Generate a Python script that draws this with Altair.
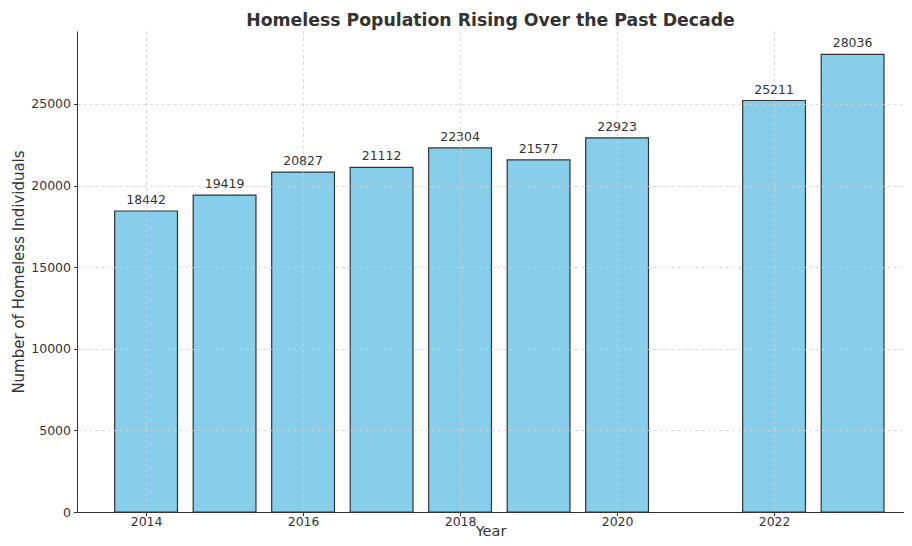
import altair as alt
import pandas as pd

years = [2014, 2015, 2016, 2017, 2018, 2019, 2020, 2022, 2023]
counts = [18442, 19419, 20827, 21112, 22304, 21577, 22923, 25211, 28036]

df = pd.DataFrame({"year": years, "count": counts})
df["x0"] = df["year"] - 0.4
df["x1"] = df["year"] + 0.4

FONT = "DejaVu Sans"
xscale = alt.Scale(domain=[2013.12, 2023.655], nice=False, zero=False)
yscale = alt.Scale(domain=[0, 29470], nice=False)

xaxis = alt.Axis(values=[2014, 2016, 2018, 2020, 2022], format="d", title="Year",
                 grid=True, gridDash=[3, 3], gridColor="#d0d0d0", gridWidth=0.8,
                 zindex=1, labelFontSize=12.5, titleFontSize=14.5, labelColor="#333",
                 titleColor="#333", titleFontWeight="normal", domainColor="#333",
                 tickColor="#333", tickSize=3.5, labelPadding=0, titleY=26,
                 titleBaseline="bottom", labelFont=FONT, titleFont=FONT)
yaxis = alt.Axis(values=[0, 5000, 10000, 15000, 20000, 25000], format="d",
                 title="Number of Homeless Individuals",
                 grid=True, gridDash=[3, 3], gridColor="#d0d0d0", gridWidth=0.8,
                 zindex=1, labelFontSize=12.5, titleFontSize=15, labelColor="#333",
                 titleColor="#333", titleFontWeight="normal", domainColor="#333",
                 tickColor="#333", tickSize=3.5, labelPadding=3, titlePadding=4,
                 labelFont=FONT, titleFont=FONT)

bars = alt.Chart(df).mark_bar(color="#87ceeb", stroke="#333", strokeWidth=1.2).encode(
    x=alt.X("x0:Q", scale=xscale, axis=xaxis),
    x2="x1:Q",
    y=alt.Y("count:Q", scale=yscale, axis=yaxis),
    y2=alt.datum(0),
)

labels = alt.Chart(df).mark_text(baseline="bottom", dy=-4, fontSize=12.5, color="#333", font=FONT).encode(
    x=alt.X("year:Q", scale=xscale),
    y=alt.Y("count:Q", scale=yscale),
    text=alt.Text("count:Q", format="d"),
)

chart = alt.layer(bars, labels).properties(
    width=827, height=481,
    title=alt.Title("Homeless Population Rising Over the Past Decade", fontSize=17.3,
                    fontWeight="bold", color="#333", font=FONT, offset=2),
    autosize=alt.AutoSizeParams(type="none"),
    padding={"left": 69, "top": 23, "right": 0, "bottom": 26},
).configure_view(stroke=None)

chart.save("out.html", embed_options={"renderer": "svg", "actions": False})
